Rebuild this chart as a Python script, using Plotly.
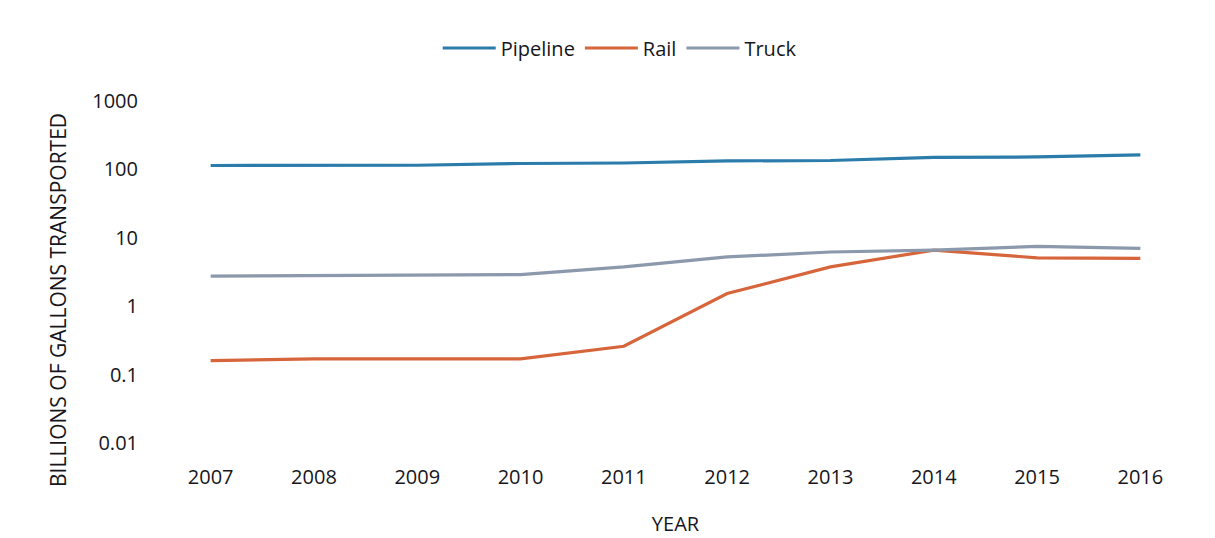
import plotly.graph_objects as go

years = ["2007", "2008", "2009", "2010", "2011", "2012", "2013", "2014", "2015", "2016"]
pipeline = [114, 114, 115, 122, 124, 133, 135, 150, 152, 163]
rail = [0.16, 0.17, 0.17, 0.17, 0.26, 1.53, 3.75, 6.6, 5.1, 5.0]
truck = [2.75, 2.8, 2.8, 2.9, 3.75, 5.25, 6.2, 6.6, 7.5, 7.0]

ytick_vals = [0.01, 0.1, 1, 10, 100, 1000]
ytick_text = ["0.01", "0.1", "1", "10", "100", "1000"]

FONT = "Open Sans"
TXT = "#16161c"

fig = go.Figure()
fig.add_trace(go.Scatter(x=years, y=pipeline, name="Pipeline", mode="lines",
                         line=dict(color="#2b7bab", width=3.2)))
fig.add_trace(go.Scatter(x=years, y=rail, name="Rail", mode="lines",
                         line=dict(color="#d7653b", width=3.2)))
fig.add_trace(go.Scatter(x=years, y=truck, name="Truck", mode="lines",
                         line=dict(color="#8c98ab", width=3.2)))

fig.update_layout(
    width=1215, height=538,
    margin=dict(l=159, r=23, t=101, b=95, autoexpand=False),
    paper_bgcolor="white", plot_bgcolor="white",
    font=dict(family=FONT, color=TXT, size=20),
    legend=dict(orientation="h", x=0.446, xanchor="center", y=1.155, yanchor="middle",
                font=dict(size=20, color=TXT), itemwidth=53, tracegroupgap=0),
    showlegend=True,
)
fig.update_xaxes(type="category", range=[-0.5, 9.5], showgrid=False, zeroline=False,
                 showline=False, ticks="", tickfont=dict(size=20, color=TXT),
                 ticklabelstandoff=20, automargin=False,
                 title=dict(text="YEAR", font=dict(size=20, color=TXT), standoff=27))
fig.update_yaxes(type="log", range=[-2, 3], showgrid=False, zeroline=False, showline=False,
                 tickvals=ytick_vals, ticktext=ytick_text, ticks="", automargin=False,
                 tickfont=dict(size=20, color=TXT), ticklabelstandoff=20)

fig.add_annotation(text="BILLIONS OF GALLONS TRANSPORTED", textangle=-90,
                   xref="paper", yref="paper", x=(58 - 159) / 1033, y=(443 - 300) / 342,
                   xanchor="center", yanchor="middle", showarrow=False,
                   font=dict(size=21, color=TXT, family=FONT))

fig.write_html("out.html")
